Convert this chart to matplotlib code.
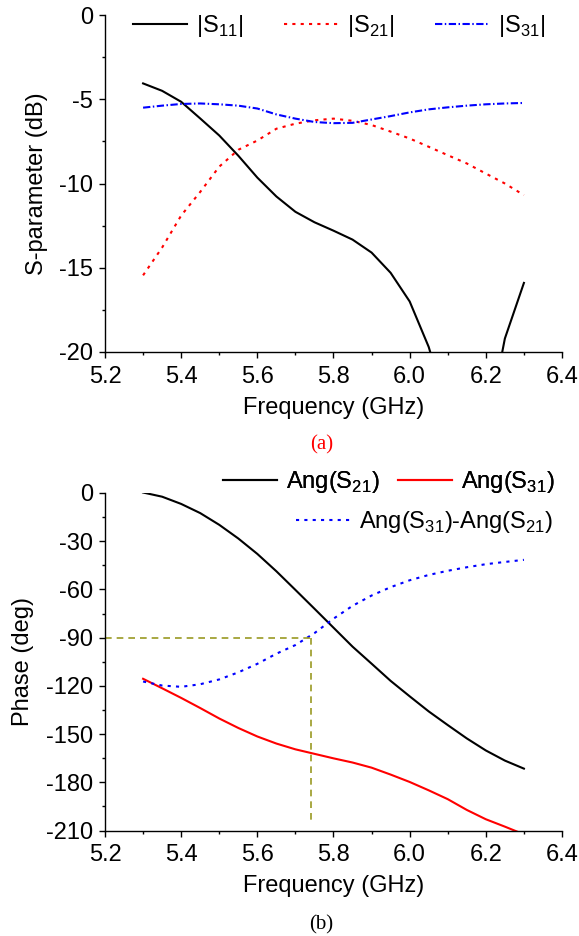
import matplotlib
matplotlib.use("Agg")
import matplotlib.pyplot as plt
from matplotlib.ticker import MultipleLocator, FormatStrFormatter

plt.rcParams["font.family"] = ["Liberation Sans", "DejaVu Sans"]
plt.rcParams["mathtext.fontset"] = "custom"
plt.rcParams["mathtext.rm"] = "Liberation Sans"
plt.rcParams["axes.unicode_minus"] = False

# ---- data ----
freq = [5.30, 5.35, 5.40, 5.45, 5.50, 5.55, 5.60, 5.65, 5.70, 5.75, 5.80,
        5.85, 5.90, 5.95, 6.00, 6.05, 6.10, 6.15, 6.20, 6.25, 6.30]

s11_db = [-4.06, -4.5, -5.15, -6.14, -7.15, -8.35, -9.65, -10.77, -11.68, -12.3, -12.8,
          -13.33, -14.1, -15.3, -17.0, -19.7, -23.5, -27.0, -25.0, -19.2, -15.9]
s21_db = [-15.45, -13.8, -11.9, -10.5, -9.0, -8.0, -7.45, -6.75, -6.45, -6.25, -6.15,
          -6.28, -6.53, -6.92, -7.33, -7.82, -8.32, -8.81, -9.41, -10.0, -10.69]
s31_db = [-5.5, -5.38, -5.28, -5.25, -5.3, -5.38, -5.55, -5.9, -6.15, -6.35, -6.42,
          -6.4, -6.2, -6.0, -5.78, -5.6, -5.48, -5.38, -5.3, -5.25, -5.22]

ang_s21 = [0.3, -2.3, -6.8, -12.5, -19.8, -28.3, -37.9, -48.7, -60.3, -72.0, -83.8,
           -95.6, -106.2, -116.9, -126.5, -135.9, -144.4, -152.7, -160.2, -166.5, -171.5]
ang_s31 = [-115.6, -121.5, -127.5, -133.8, -140.3, -146.2, -151.5, -155.9, -159.5, -162.3, -165.1,
           -167.7, -170.9, -175.2, -179.8, -185.0, -190.5, -197.2, -203.0, -207.6, -212.4]
ang_diff = [-117.3, -119.8, -120.6, -119.0, -116.0, -111.6, -106.3, -100.0, -94.6, -87.2, -78.2,
            -70.2, -63.8, -58.6, -54.3, -51.0, -48.4, -46.2, -44.3, -42.9, -41.6]

f_90 = 5.74       # frequency where the phase difference is -90 deg
phase_90 = -90
phase_guide_end = -205

W, H = 579, 936
fig = plt.figure(figsize=(W / 100, H / 100), dpi=100)


def px_axes(left, top, right, bottom):
    return fig.add_axes([left / W, 1 - bottom / H, (right - left) / W, (bottom - top) / H])


def style_axes(ax):
    for side in ("top", "right"):
        ax.spines[side].set_visible(False)
    for side in ("left", "bottom"):
        ax.spines[side].set_linewidth(1.0)
    ax.tick_params(which="major", direction="out", length=4.5, width=1.0, labelsize=17, pad=4)
    ax.tick_params(axis="x", which="major", pad=5.5)
    ax.tick_params(which="minor", direction="out", length=2.5, width=1.0)
    ax.set_xlim(5.2, 6.4)
    ax.xaxis.set_major_locator(MultipleLocator(0.2))
    ax.xaxis.set_minor_locator(MultipleLocator(0.1))
    ax.xaxis.set_major_formatter(FormatStrFormatter("%.1f"))
    ax.set_xlabel("Frequency (GHz)", fontsize=17, labelpad=6.5)


# -------- (a) S-parameters --------
ax1 = px_axes(105, 15, 562, 352)
style_axes(ax1)
l11, = ax1.plot(freq, s11_db, color="black", lw=1.5)
l21, = ax1.plot(freq, s21_db, color="red", lw=1.5, linestyle=(0, (1.5, 2.5)))
l31, = ax1.plot(freq, s31_db, color="blue", lw=1.5, linestyle=(0, (3.5, 1.2, 0.7, 1.2)))
ax1.set_ylim(-20, 0)
ax1.yaxis.set_major_locator(MultipleLocator(5))
ax1.yaxis.set_minor_locator(MultipleLocator(2.5))
ax1.set_ylabel("S-parameter (dB)", fontsize=17)
ax1.yaxis.set_label_coords(-0.125, 0.5)

fig.legend([l11, l21, l31],
           [r"|S$_\mathregular{11}$|", r"|S$_\mathregular{21}$|", r"|S$_\mathregular{31}$|"],
           loc="center left", bbox_to_anchor=(133 / W, 1 - 26 / H), ncol=3,
           frameon=False, fontsize=17, borderpad=0, borderaxespad=0,
           handlelength=2.3, handletextpad=0.35, columnspacing=1.75)

fig.text(321.5 / W, 1 - 445 / H, "(a)", color="red", fontsize=15,
         family="Liberation Serif", ha="center", va="center")

# -------- (b) Phase --------
ax2 = px_axes(105, 493, 562, 830.5)
style_axes(ax2)
p21, = ax2.plot(freq, ang_s21, color="black", lw=1.5)
p31, = ax2.plot(freq, ang_s31, color="red", lw=1.5)
pd, = ax2.plot(freq, ang_diff, color="blue", lw=1.5, linestyle=(0, (1.5, 2.5)))
ax2.plot([5.2, f_90], [phase_90, phase_90], color="#999922", lw=1.2, linestyle=(0, (4, 3)))
ax2.plot([f_90, f_90], [phase_90, phase_guide_end], color="#999922", lw=1.2, linestyle=(0, (4, 3)))
ax2.set_ylim(-210, 0)
ax2.yaxis.set_major_locator(MultipleLocator(30))
ax2.yaxis.set_minor_locator(MultipleLocator(15))
ax2.set_ylabel("Phase (deg)", fontsize=17)
ax2.yaxis.set_label_coords(-0.155, 0.5)

leg_b1 = fig.legend([p21, p31],
                    [r"Ang(S$_\mathregular{21}$)", r"Ang(S$_\mathregular{31}$)"],
                    loc="center left", bbox_to_anchor=(223 / W, 1 - 482 / H), ncol=2,
                    frameon=False, fontsize=17, borderpad=0, borderaxespad=0,
                    handlelength=2.3, handletextpad=0.35, columnspacing=0.8)
fig.add_artist(leg_b1)
fig.legend([pd], [r"Ang(S$_\mathregular{31}$)-Ang(S$_\mathregular{21}$)"],
           loc="center right", bbox_to_anchor=(553 / W, 1 - 522 / H),
           frameon=False, fontsize=17, borderpad=0, borderaxespad=0,
           handlelength=2.3, handletextpad=0.35)

fig.text(321.5 / W, 1 - 925 / H, "(b)", color="black", fontsize=15,
         family="Liberation Serif", ha="center", va="center")

fig.savefig("out.png", dpi=100)
